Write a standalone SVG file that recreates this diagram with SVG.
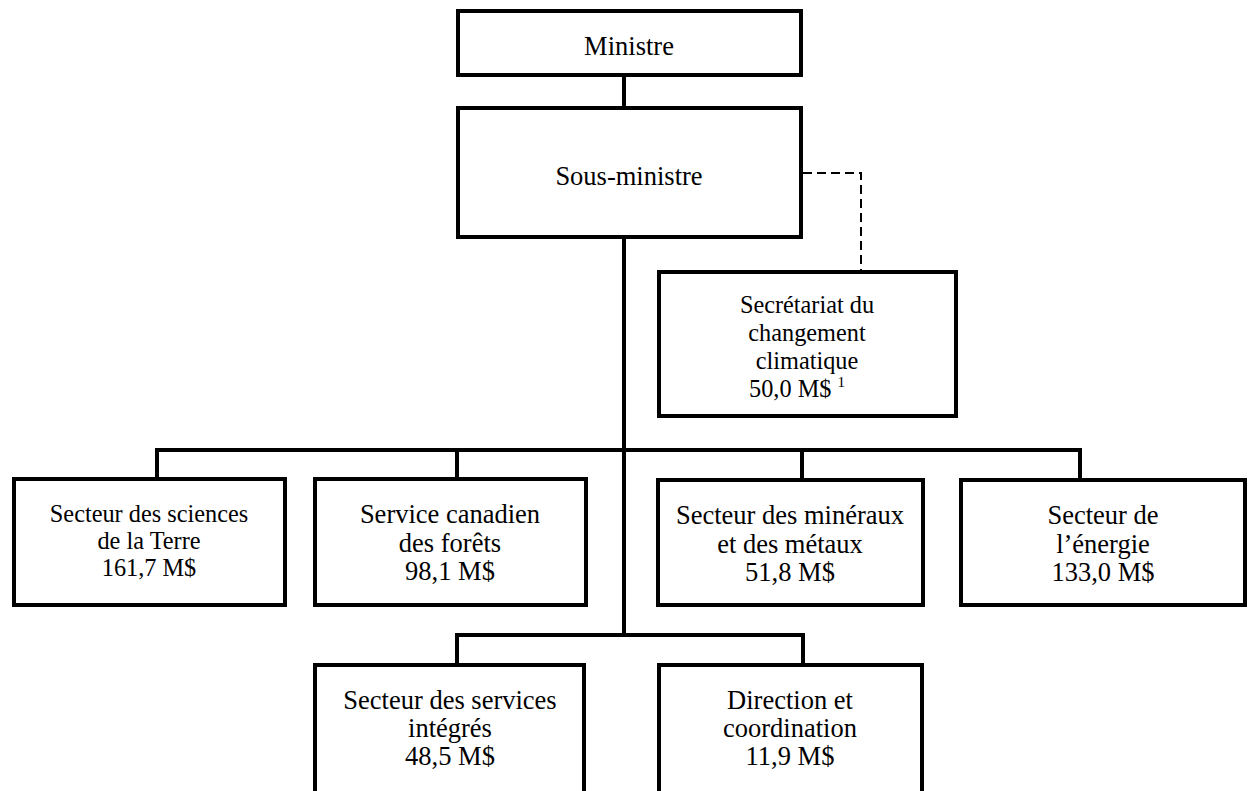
<svg xmlns="http://www.w3.org/2000/svg" width="1248" height="791" viewBox="0 0 1248 791">
<style>
.box{fill:#fff;stroke:#000;stroke-width:4}
.ln{fill:none;stroke:#000;stroke-width:4;stroke-linecap:square}
.dash{fill:none;stroke:#000;stroke-width:2;stroke-dasharray:9,5}
text{font-family:"Liberation Serif","Times New Roman",serif;fill:#000;text-anchor:middle;font-size:26.5px}
.sm{font-size:24.3px}
</style>
<rect width="1248" height="791" fill="#fff"/>
<g id="connectors">
<line class="ln" x1="624" y1="77" x2="624" y2="106"/>
<line class="ln" x1="624" y1="239" x2="624" y2="635"/>
<polyline class="ln" points="157,478 157,450 1080,450 1080,478"/>
<line class="ln" x1="457" y1="450" x2="457" y2="478"/>
<line class="ln" x1="802" y1="450" x2="802" y2="478"/>
<polyline class="ln" points="457,663 457,635 803,635 803,663"/>
<polyline class="dash" points="803,173 861,173 861,270"/>
</g>
<g id="ministre">
<rect class="box" x="458" y="11" width="343" height="64"/>
<text x="629" y="55">Ministre</text>
</g>
<g id="sous-ministre">
<rect class="box" x="458" y="108" width="343" height="129"/>
<text x="629" y="185">Sous-ministre</text>
</g>
<g id="secretariat">
<rect class="box" x="659" y="272" width="297" height="144"/>
<text class="sm" x="807" y="313">Secrétariat du</text>
<text class="sm" x="807" y="341">changement</text>
<text class="sm" x="807" y="369">climatique</text>
<text class="sm" x="797" y="397">50,0 M$ <tspan font-size="15" dy="-10">1</tspan></text>
</g>
<g id="sciences-terre">
<rect class="box" x="14" y="479" width="271" height="126"/>
<text class="sm" x="149" y="522">Secteur des sciences</text>
<text class="sm" x="149" y="549">de la Terre</text>
<text class="sm" x="149" y="576">161,7 M$</text>
</g>
<g id="forets">
<rect class="box" x="315" y="479" width="271" height="126"/>
<text x="450" y="523">Service canadien</text>
<text x="450" y="552">des forêts</text>
<text x="450" y="580">98,1 M$</text>
</g>
<g id="mineraux">
<rect class="box" x="658" y="480" width="265" height="125"/>
<text x="790" y="524">Secteur des minéraux</text>
<text x="790" y="553">et des métaux</text>
<text x="790" y="581">51,8 M$</text>
</g>
<g id="energie">
<rect class="box" x="961" y="480" width="284" height="125"/>
<text x="1103" y="524">Secteur de</text>
<text x="1103" y="553">l’énergie</text>
<text x="1103" y="581">133,0 M$</text>
</g>
<g id="services-integres">
<rect class="box" x="315" y="665" width="269" height="140"/>
<text x="450" y="709">Secteur des services</text>
<text x="450" y="737">intégrés</text>
<text x="450" y="765">48,5 M$</text>
</g>
<g id="direction">
<rect class="box" x="659" y="665" width="263" height="140"/>
<text x="790" y="709">Direction et</text>
<text x="790" y="737">coordination</text>
<text x="790" y="765">11,9 M$</text>
</g>
</svg>
